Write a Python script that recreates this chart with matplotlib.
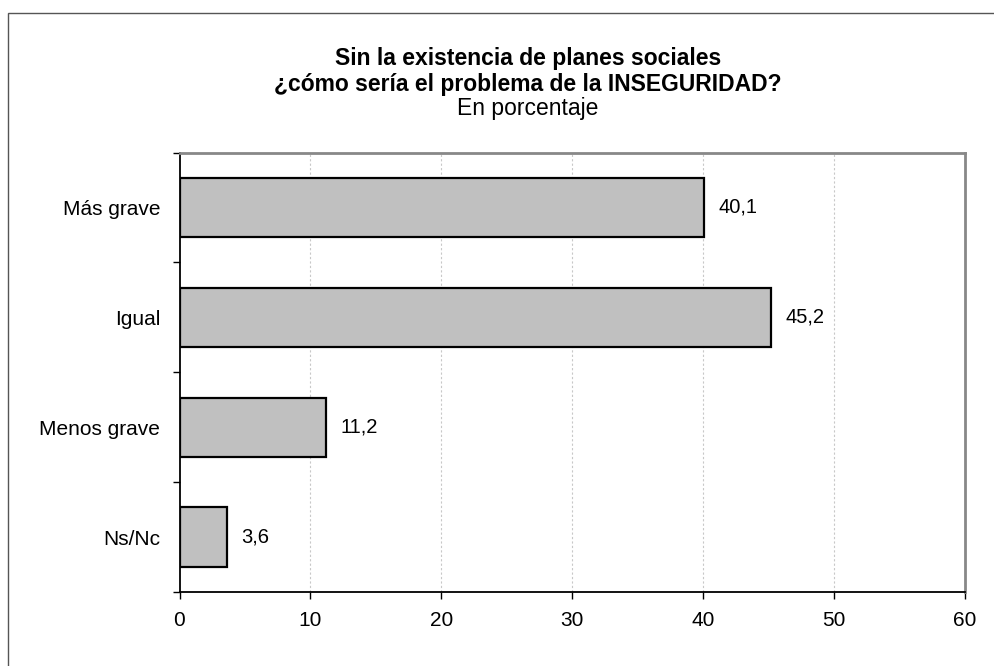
import matplotlib.pyplot as plt
from matplotlib.patches import Rectangle
from matplotlib.ticker import FixedLocator

plt.rcParams['font.family'] = ['Liberation Sans', 'DejaVu Sans']

categorias = ['Más grave', 'Igual', 'Menos grave', 'Ns/Nc']
valores = [40.1, 45.2, 11.2, 3.6]
etiquetas = ['40,1', '45,2', '11,2', '3,6']

W, H = 994, 666
fig = plt.figure(figsize=(W / 100, H / 100), dpi=100)
ax = fig.add_axes([179.5 / W, 1 - 592 / H, (965 - 179.5) / W, (592 - 152.5) / H])

# marco exterior del gráfico
fig.patches.append(Rectangle((7.5 / W, -0.1), 1.2, 1.1 - 13.5 / H, transform=fig.transFigure,
                             fill=False, edgecolor='#555555', linewidth=1.0))

pos = list(range(len(categorias)))
ax.barh(pos, valores, height=0.54, color='#C0C0C0', edgecolor='black', linewidth=1.6, zorder=3)
for p, v, t in zip(pos, valores, etiquetas):
    ax.text(v + 1.1, p, t, va='center', ha='left', fontsize=14.5)

ax.set_xlim(0, 60)
ax.set_ylim(3.5, -0.5)
ax.set_xticks(range(0, 61, 10))
ax.tick_params(axis='x', labelsize=15, length=5, width=1, pad=9, direction='out')

ax.set_yticks(pos)
ax.set_yticklabels(categorias, fontsize=15)
ax.yaxis.set_minor_locator(FixedLocator([-0.5, 0.5, 1.5, 2.5, 3.5]))
ax.tick_params(axis='y', which='major', length=0, pad=14)
ax.tick_params(axis='y', which='minor', length=5, width=1, direction='out')

for x in range(10, 60, 10):
    ax.axvline(x, color='#C8C8C8', linewidth=0.8, linestyle=(0, (2, 2)), zorder=1)

ax.spines['left'].set_color('black')
ax.spines['bottom'].set_color('black')
ax.spines['left'].set_linewidth(1.3)
ax.spines['bottom'].set_linewidth(1.3)
ax.spines['top'].set_color('#888888')
ax.spines['right'].set_color('#888888')
ax.spines['top'].set_linewidth(2)
ax.spines['right'].set_linewidth(2)

tx = 528 / W
fig.text(tx, 1 - 65 / H, 'Sin la existencia de planes sociales', ha='center', va='baseline',
         fontsize=16.5, fontweight='bold')
fig.text(tx, 1 - 91 / H, '¿cómo sería el problema de la INSEGURIDAD?', ha='center', va='baseline',
         fontsize=16.5, fontweight='bold')
fig.text(tx, 1 - 115 / H, 'En porcentaje', ha='center', va='baseline', fontsize=16.5)

fig.savefig('out.png', dpi=100)
